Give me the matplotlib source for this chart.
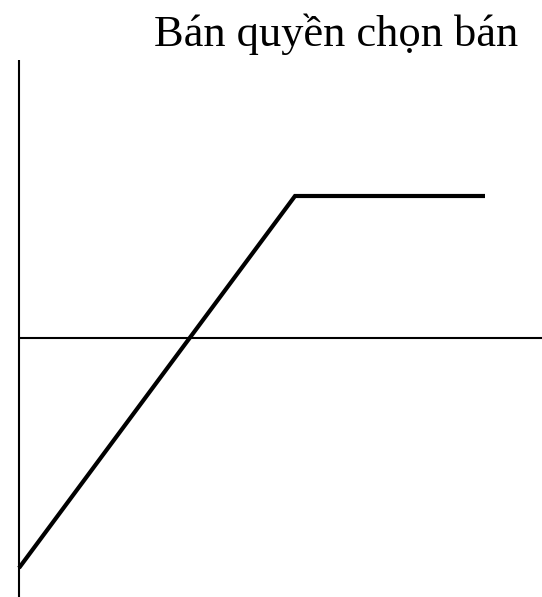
import matplotlib
matplotlib.use("Agg")
import matplotlib.pyplot as plt

# payoff of a short put (pixel-like units, origin at the axes crossing)
price = [0, 276, 466]
profit = [-230, 142, 142]
title = "Bán quyền chọn bán"

fig = plt.figure(figsize=(5.42, 5.97), dpi=100)
ax = fig.add_axes([0, 0, 1, 1])
ax.set_xlim(-19, 523)
ax.set_ylim(-259, 338)
ax.axis("off")

# axes lines
ax.plot([0, 0], [-259, 278], color="black", lw=1.5, solid_capstyle="butt")
ax.plot([0, 523], [0, 0], color="black", lw=1.5, solid_capstyle="butt")

ax.plot(price, profit, color="black", lw=3, solid_joinstyle="miter", solid_capstyle="butt")

ax.text(499, 292, title, ha="right", va="baseline", fontsize=32,
        family=["Liberation Serif", "DejaVu Serif"])

fig.savefig("out.png", dpi=100)
